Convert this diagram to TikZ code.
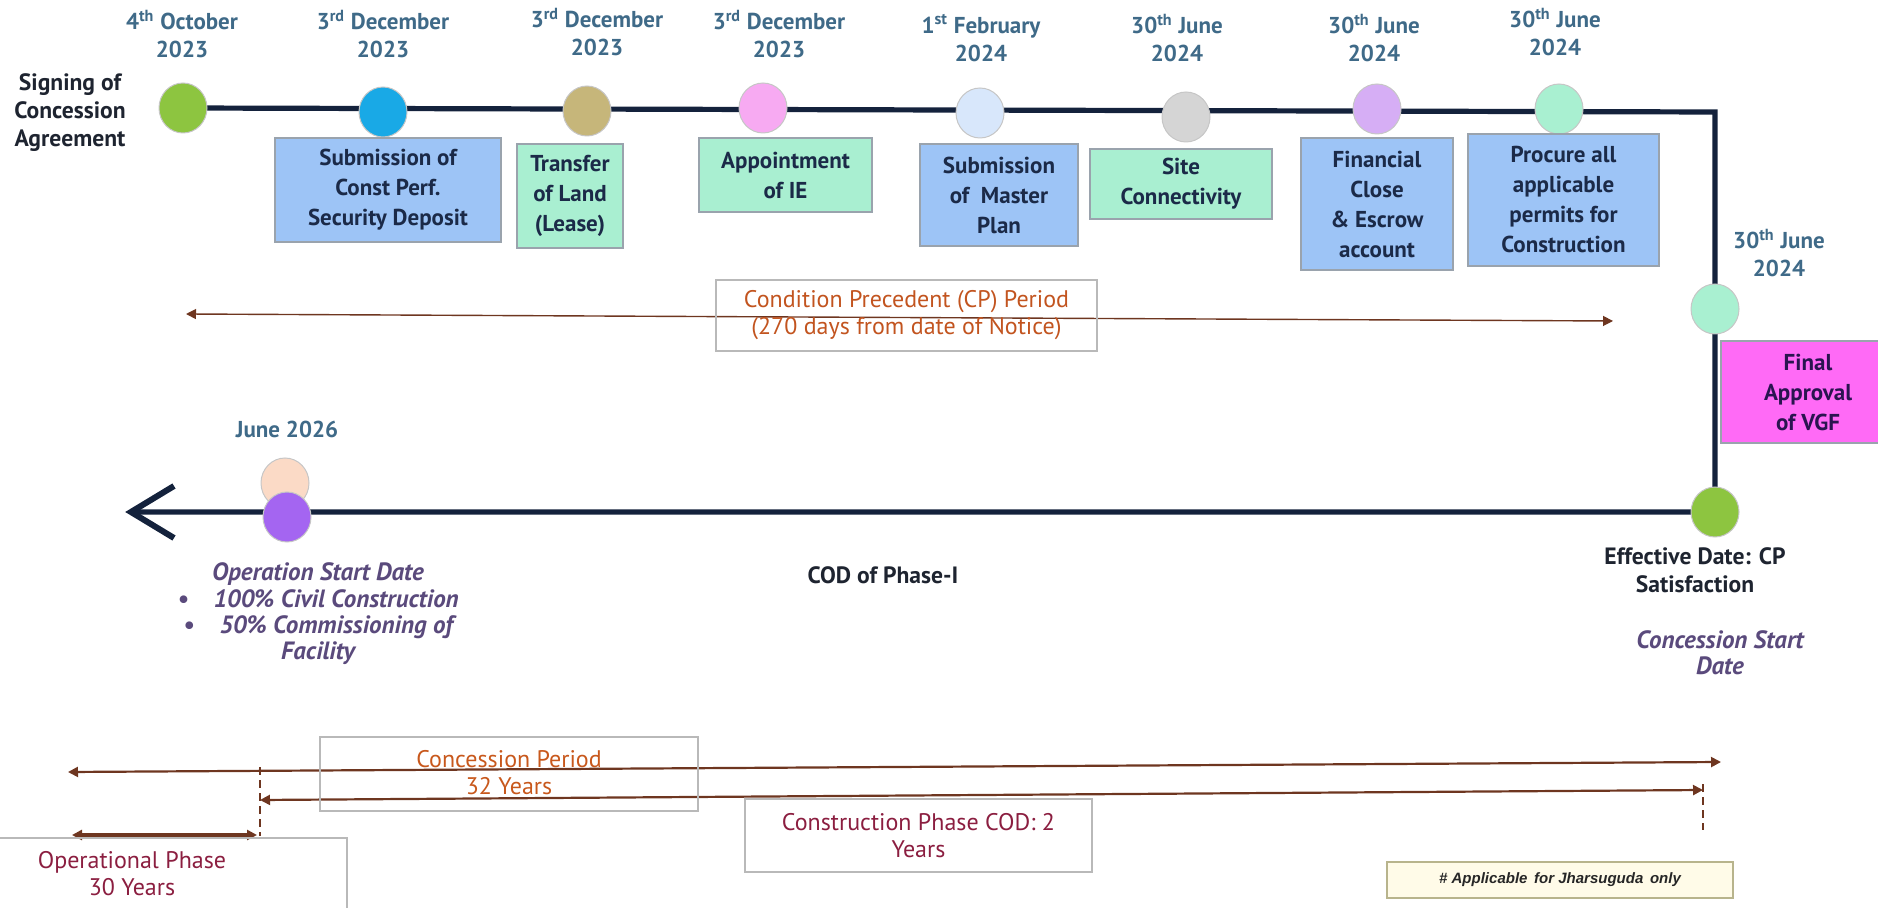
\documentclass[tikz,border=0pt]{standalone}
\usepackage{fontspec}
\setmainfont{PT Sans}
\newfontfamily\notefont{Liberation Sans}
\usetikzlibrary{arrows.meta,backgrounds,shapes.geometric}

% palette
\definecolor{navyline}{HTML}{14223C}
\definecolor{datecol}{HTML}{3F6A88}
\definecolor{boxtext}{HTML}{1B2A48}
\definecolor{labeltext}{HTML}{1E2430}
\definecolor{boxedge}{HTML}{9AA3AD}
\definecolor{bluebox}{HTML}{9DC4F6}
\definecolor{mintbox}{HTML}{A9EFD1}
\definecolor{vgfbox}{HTML}{FF6AF6}
\definecolor{vgftext}{HTML}{2A1450}
\definecolor{periodarrow}{HTML}{6E3620}
\definecolor{cptext}{HTML}{C2541F}
\definecolor{phasetext}{HTML}{8B1E40}
\definecolor{italtext}{HTML}{5A4A7C}
\definecolor{notefill}{HTML}{FFFBE8}
\definecolor{noteedge}{HTML}{B8B48C}
\definecolor{cGreen}{HTML}{8DC540}
\definecolor{cBlue}{HTML}{19A9E6}
\definecolor{cTan}{HTML}{C6B67A}
\definecolor{cPink}{HTML}{F7AAF2}
\definecolor{cIce}{HTML}{D8E7FB}
\definecolor{cGrey}{HTML}{D5D5D5}
\definecolor{cLilac}{HTML}{D6AEF5}
\definecolor{cMint}{HTML}{A9F0D1}
\definecolor{cPeach}{HTML}{FBDAC6}
\definecolor{cPurple}{HTML}{A465F1}

\begin{document}
\begin{tikzpicture}[x=0.5pt,y=-0.5pt,
  mile/.style={ellipse, minimum width=24pt, minimum height=25pt, inner sep=0pt,
    draw=gray!45, line width=0.5pt, fill=#1},
  datelbl/.style={font=\bfseries\fontsize{11.5}{14}\selectfont, text=datecol,
    align=center, inner sep=0pt},
  task/.style={draw=boxedge, line width=0.6pt, fill=#1, align=center, text=boxtext,
    inner sep=0pt, font=\bfseries\fontsize{11.5}{15}\selectfont},
  plainlbl/.style={font=\bfseries\fontsize{11.8}{14}\selectfont, text=labeltext,
    align=center, inner sep=0pt},
  itallbl/.style={font=\bfseries\itshape\fontsize{12.5}{13.2}\selectfont, text=italtext,
    align=center, inner sep=0pt},
  framebox/.style={draw=gray!55, line width=0.6pt, inner sep=0pt},
  periodtxt/.style={font=\fontsize{12}{13.5}\selectfont, align=center, inner sep=0pt},
  timeline/.style={draw=navyline, line width=2.6pt, line join=miter},
  period/.style={draw=periodarrow, line width=#1,
    {Triangle[length=5pt,width=5pt]}-{Triangle[length=5pt,width=5pt]}},
]
\useasboundingbox (0,0) rectangle (1878,908);
\clip (0,0) rectangle (1878,908);

% ---------- milestones on the top run ----------
\node[mile=cGreen]  (c1) at (183,108) {};
\node[mile=cBlue]   (c2) at (383,112) {};
\node[mile=cTan]    (c3) at (587,111) {};
\node[mile=cPink]   (c4) at (763,108) {};
\node[mile=cIce]    (c5) at (980,113) {};
\node[mile=cGrey]   (c6) at (1186,117) {};
\node[mile=cLilac]  (c7) at (1377,109) {};
\node[mile=cMint]   (c8) at (1559,109) {};
% right leg and return run
\node[mile=cMint]   (c9)  at (1715,309) {};
\node[mile=cGreen]  (c10) at (1715,512) {};
\node[mile=cPeach]  (c11) at (285,483) {};
\node[mile=cPurple] (c12) at (287,517) {};

\coordinate (corner) at (1715,112);
\coordinate (tip) at (131,512);
\coordinate (tipU) at (174,486);
\coordinate (tipD) at (174,538);

\begin{scope}[on background layer]
  \draw[timeline] (c1.center) -- (corner) -- (c9.center) -- (c10.center) -- (tip);
\end{scope}
\draw[navyline, line width=3pt, line join=miter] (tipU) -- (tip) -- (tipD);

% ---------- dates ----------
\node[datelbl] (d1) at (182,34) {4\textsuperscript{th} October\\2023};
\node[datelbl] (d2) at (383,34) {3\textsuperscript{rd} December\\2023};
\node[datelbl] (d3) at (597,32) {3\textsuperscript{rd} December\\2023};
\node[datelbl] (d4) at (779,34) {3\textsuperscript{rd} December\\2023};
\node[datelbl] (d5) at (981,38) {1\textsuperscript{st} February\\2024};
\node[datelbl] (d6) at (1177,38) {30\textsuperscript{th} June\\2024};
\node[datelbl] (d7) at (1374,38) {30\textsuperscript{th} June\\2024};
\node[datelbl] (d8) at (1555,32) {30\textsuperscript{th} June\\2024};
\node[datelbl] (d9) at (1779,253) {30\textsuperscript{th} June\\2024};
\node[datelbl] (d10) at (287,429) {June 2026};

% ---------- activity boxes ----------
\node[task=bluebox, minimum width=113pt, minimum height=52pt] (b2) at (388,190)
  {Submission of\\Const Perf.\\Security Deposit};
\node[task=mintbox, minimum width=53pt, minimum height=52pt] (b3) at (570,196)
  {Transfer\\of Land\\(Lease)};
\node[task=mintbox, minimum width=86.5pt, minimum height=37pt] (b4) at (785.5,175)
  {Appointment\\of IE};
\node[task=bluebox, minimum width=79pt, minimum height=51pt] (b5) at (999,195)
  {Submission\\of~ Master\\Plan};
\node[task=mintbox, minimum width=91pt, minimum height=35pt] (b6) at (1181,184)
  {Site\\Connectivity};
\node[task=bluebox, minimum width=76pt, minimum height=66pt] (b7) at (1377,204)
  {Financial\\Close\\\& Escrow\\account};
\node[task=bluebox, minimum width=95.5pt, minimum height=66pt] (b8) at (1563.5,200)
  {Procure all\\applicable\\permits for\\Construction};
\node[task=vgfbox, text=vgftext, minimum width=87pt, minimum height=51pt] (b9) at (1808,392)
  {Final\\Approval\\of VGF};

% ---------- milestone captions ----------
\node[plainlbl] (sign) at (70,113) {Signing of\\Concession\\Agreement};
\node[plainlbl] (cod) at (883,575) {COD of Phase-I};
\node[plainlbl] (eff) at (1695,570) {Effective Date: CP\\Satisfaction};
\node[itallbl] (csd) at (1720,653) {Concession Start\\Date};
\node[itallbl] (osd) at (318,614)
  {Operation Start Date\\
   \textbullet\quad 100\% Civil Construction\\
   \textbullet\quad 50\% Commissioning of\\
   Facility};

% ---------- condition precedent period ----------
\coordinate (cpL) at (186,314);
\coordinate (cpR) at (1613,321);
\draw[period=0.7pt] (cpL) -- (cpR);
\node[framebox, minimum width=190.5pt, minimum height=35.5pt] (cpbox) at (906.5,315.5) {};
\node[periodtxt, text=cptext] (cptxt) at (cpbox.center)
  {Condition Precedent (CP) Period\\(270 days from date of Notice)};

% ---------- concession / construction / operation spans ----------
\coordinate (concL) at (68,772);
\coordinate (concR) at (1721,762);
\coordinate (consL) at (260,800);
\coordinate (consR) at (1703,790);
\coordinate (opL) at (72,835);
\coordinate (opR) at (257,835);
\coordinate (dashA1) at (260,767);
\coordinate (dashA2) at (260,836);
\coordinate (dashB1) at (1703,784);
\coordinate (dashB2) at (1703,830);

\draw[periodarrow, line width=0.6pt, dash pattern=on 4pt off 2.5pt] (dashA1) -- (dashA2);
\draw[periodarrow, line width=0.6pt, dash pattern=on 4pt off 2.5pt] (dashB1) -- (dashB2);
\draw[period=1.1pt] (concL) -- (concR);
\draw[period=1.1pt] (consL) -- (consR);
\draw[period=1.6pt] (opL) -- (opR);

\node[framebox, minimum width=189pt, minimum height=37pt] (concbox) at (509,774) {};
\node[periodtxt, text=cptext!90!orange] (conctxt) at (509,773) {Concession Period\\32 Years};

\node[framebox, minimum width=176pt, minimum height=46pt] (opbox) at (171,884) {};
\node[periodtxt, text=phasetext] (optxt) at (132,874) {Operational Phase\\30 Years};

\node[framebox, minimum width=173.5pt, minimum height=36.5pt] (consbox) at (918.5,835.5) {};
\node[periodtxt, text=phasetext] (constxt) at (918.5,835.5) {Construction Phase COD: 2\\Years};

\node[draw=noteedge, line width=1.1pt, fill=notefill, minimum width=173pt, minimum height=18pt,
  inner sep=0pt, font=\notefont\bfseries\itshape\fontsize{7.5}{9}\selectfont, text=black!85]
  (note) at (1560,880) {\# Applicable\, for Jharsuguda\, only};
\end{tikzpicture}
\end{document}
